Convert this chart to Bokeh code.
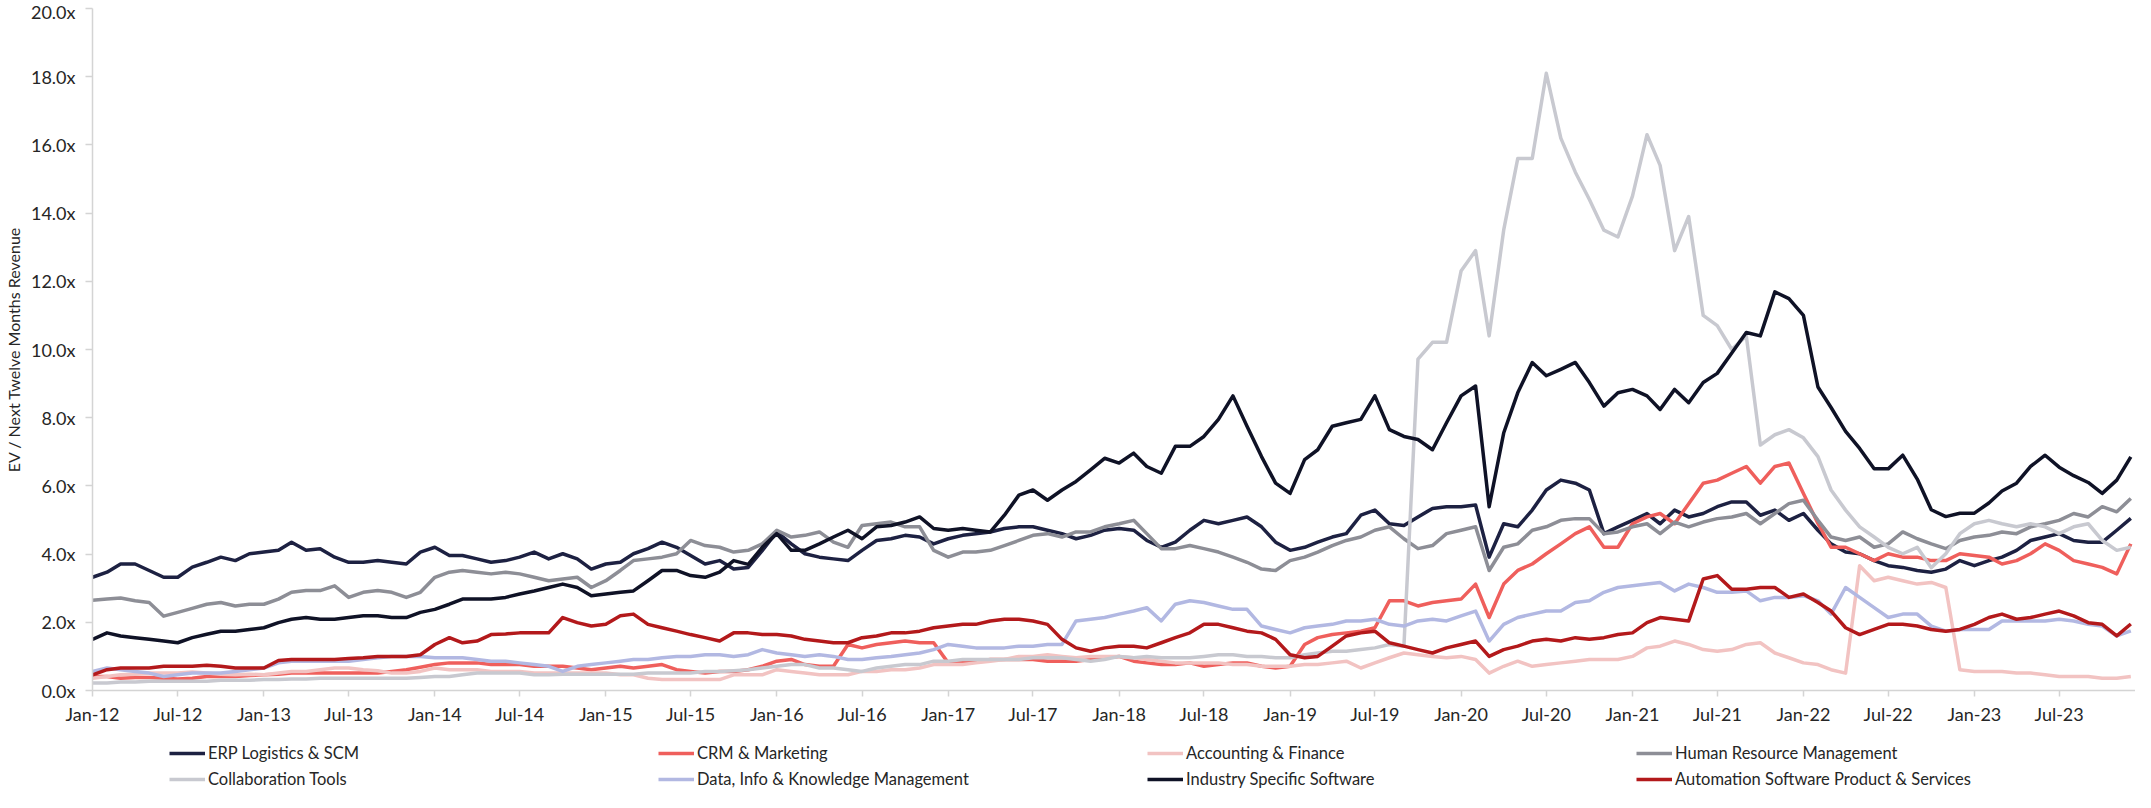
import pandas as pd
from datetime import datetime
from bokeh.plotting import figure
from bokeh.layouts import column
from bokeh.models import (ColumnDataSource, Legend, LegendItem, FixedTicker,
                          PrintfTickFormatter, DatetimeTickFormatter, Range1d)
from bokeh.embed import file_html
from bokeh.resources import INLINE

# Monthly observations, Jan-2012 .. Dec-2023 (144 months)
dates = pd.date_range("2012-01-01", periods=144, freq="MS")

erp_logistics = [
    3.32, 3.47, 3.71, 3.71, 3.52, 3.32, 3.32, 3.62, 3.76, 3.91, 3.81, 4.01,
    4.06, 4.11, 4.35, 4.11, 4.16, 3.91, 3.76, 3.76, 3.81, 3.76, 3.71, 4.06,
    4.20, 3.96, 3.96, 3.86, 3.76, 3.81, 3.91, 4.06, 3.86, 4.01, 3.86, 3.56,
    3.71, 3.76, 4.01, 4.16, 4.35, 4.20, 3.96, 3.71, 3.81, 3.56, 3.61, 4.10,
    4.65, 4.30, 4.01, 3.91, 3.86, 3.81, 4.11, 4.40, 4.45, 4.55, 4.50, 4.30,
    4.45, 4.55, 4.60, 4.65, 4.75, 4.80, 4.80, 4.70, 4.60, 4.45, 4.55, 4.70,
    4.75, 4.70, 4.40, 4.20, 4.35, 4.70, 4.99, 4.89, 4.99, 5.09, 4.80, 4.35,
    4.11, 4.20, 4.35, 4.50, 4.60, 5.14, 5.29, 4.89, 4.84, 5.09, 5.34, 5.39,
    5.39, 5.44, 3.91, 4.89, 4.80, 5.29, 5.88, 6.17, 6.08, 5.88, 4.60, 4.80,
    4.99, 5.19, 4.89, 5.29, 5.09, 5.19, 5.39, 5.53, 5.53, 5.14, 5.29, 4.99,
    5.19, 4.70, 4.30, 4.06, 4.01, 3.81, 3.66, 3.61, 3.52, 3.47, 3.56, 3.81,
    3.66, 3.81, 3.91, 4.11, 4.40, 4.50, 4.60, 4.40, 4.35, 4.35, 4.70, 5.05,
]

crm_marketing = [
    0.41, 0.41, 0.36, 0.38, 0.38, 0.36, 0.34, 0.36, 0.41, 0.41, 0.41, 0.44,
    0.46, 0.48, 0.51, 0.51, 0.51, 0.51, 0.51, 0.51, 0.51, 0.56, 0.61, 0.68,
    0.76, 0.81, 0.81, 0.81, 0.76, 0.76, 0.76, 0.71, 0.71, 0.71, 0.66, 0.61,
    0.66, 0.71, 0.66, 0.71, 0.76, 0.61, 0.56, 0.51, 0.56, 0.56, 0.61, 0.71,
    0.86, 0.91, 0.76, 0.71, 0.71, 1.35, 1.25, 1.35, 1.40, 1.45, 1.40, 1.40,
    0.81, 0.86, 0.86, 0.91, 0.91, 0.91, 0.91, 0.86, 0.86, 0.86, 0.91, 0.96,
    1.00, 0.86, 0.81, 0.76, 0.76, 0.81, 0.71, 0.76, 0.81, 0.81, 0.71, 0.66,
    0.71, 1.35, 1.55, 1.64, 1.69, 1.74, 1.84, 2.63, 2.63, 2.48, 2.58, 2.63,
    2.68, 3.12, 2.14, 3.12, 3.52, 3.71, 4.01, 4.30, 4.60, 4.80, 4.20, 4.20,
    4.89, 5.09, 5.19, 4.89, 5.48, 6.08, 6.17, 6.37, 6.57, 6.08, 6.57, 6.67,
    5.78, 4.90, 4.20, 4.20, 4.01, 3.81, 4.01, 3.91, 3.91, 3.81, 3.81, 4.01,
    3.96, 3.91, 3.71, 3.81, 4.01, 4.30, 4.11, 3.81, 3.71, 3.61, 3.42, 4.30,
]

accounting_finance = [
    0.36, 0.41, 0.46, 0.48, 0.51, 0.51, 0.51, 0.54, 0.51, 0.48, 0.46, 0.48,
    0.46, 0.51, 0.56, 0.56, 0.61, 0.66, 0.66, 0.61, 0.58, 0.51, 0.51, 0.56,
    0.66, 0.61, 0.61, 0.61, 0.56, 0.56, 0.56, 0.51, 0.51, 0.51, 0.51, 0.51,
    0.51, 0.46, 0.46, 0.36, 0.32, 0.32, 0.32, 0.32, 0.32, 0.46, 0.46, 0.46,
    0.61, 0.56, 0.51, 0.46, 0.46, 0.46, 0.56, 0.56, 0.61, 0.61, 0.66, 0.76,
    0.76, 0.76, 0.81, 0.86, 0.91, 1.00, 1.00, 1.05, 1.00, 0.96, 1.00, 1.00,
    1.00, 0.96, 0.91, 0.86, 0.81, 0.81, 0.81, 0.81, 0.76, 0.76, 0.71, 0.71,
    0.71, 0.76, 0.76, 0.81, 0.86, 0.66, 0.81, 0.96, 1.10, 1.05, 1.00, 0.96,
    1.00, 0.91, 0.51, 0.71, 0.86, 0.71, 0.76, 0.81, 0.86, 0.91, 0.91, 0.91,
    1.00, 1.25, 1.30, 1.45, 1.35, 1.20, 1.15, 1.20, 1.35, 1.40, 1.10, 0.96,
    0.81, 0.76, 0.61, 0.51, 3.66, 3.22, 3.32, 3.22, 3.12, 3.17, 3.02, 0.61,
    0.56, 0.56, 0.56, 0.51, 0.51, 0.46, 0.41, 0.41, 0.41, 0.36, 0.36, 0.41,
]

human_resource = [
    2.65, 2.68, 2.71, 2.63, 2.58, 2.18, 2.29, 2.41, 2.53, 2.58, 2.48, 2.53,
    2.53, 2.68, 2.88, 2.93, 2.93, 3.07, 2.73, 2.88, 2.93, 2.88, 2.73, 2.88,
    3.32, 3.47, 3.52, 3.47, 3.42, 3.47, 3.42, 3.32, 3.22, 3.27, 3.32, 3.02,
    3.22, 3.52, 3.81, 3.86, 3.91, 4.01, 4.40, 4.25, 4.20, 4.06, 4.11, 4.30,
    4.70, 4.50, 4.55, 4.65, 4.35, 4.20, 4.84, 4.89, 4.94, 4.80, 4.80, 4.11,
    3.91, 4.06, 4.06, 4.11, 4.25, 4.40, 4.55, 4.60, 4.50, 4.65, 4.65, 4.80,
    4.89, 4.99, 4.60, 4.16, 4.16, 4.25, 4.16, 4.06, 3.91, 3.76, 3.56, 3.52,
    3.81, 3.91, 4.06, 4.25, 4.40, 4.50, 4.70, 4.80, 4.45, 4.16, 4.25, 4.60,
    4.70, 4.80, 3.52, 4.20, 4.30, 4.70, 4.80, 4.99, 5.04, 5.04, 4.60, 4.65,
    4.80, 4.89, 4.60, 4.94, 4.80, 4.94, 5.04, 5.09, 5.19, 4.89, 5.19, 5.48,
    5.58, 4.99, 4.50, 4.40, 4.50, 4.20, 4.30, 4.65, 4.45, 4.30, 4.16, 4.40,
    4.50, 4.55, 4.65, 4.60, 4.80, 4.89, 4.99, 5.19, 5.09, 5.39, 5.24, 5.63,
]

collaboration_tools = [
    0.22, 0.22, 0.25, 0.25, 0.27, 0.27, 0.27, 0.27, 0.27, 0.30, 0.30, 0.30,
    0.32, 0.32, 0.34, 0.34, 0.36, 0.36, 0.36, 0.36, 0.36, 0.36, 0.36, 0.38,
    0.41, 0.41, 0.46, 0.51, 0.51, 0.51, 0.51, 0.46, 0.46, 0.48, 0.48, 0.48,
    0.48, 0.48, 0.48, 0.51, 0.51, 0.51, 0.51, 0.56, 0.56, 0.58, 0.61, 0.66,
    0.71, 0.76, 0.76, 0.66, 0.66, 0.61, 0.56, 0.66, 0.71, 0.76, 0.76, 0.86,
    0.86, 0.91, 0.91, 0.91, 0.91, 0.91, 0.96, 0.96, 0.96, 0.91, 0.86, 0.91,
    1.00, 0.96, 1.00, 0.96, 0.96, 0.96, 1.00, 1.05, 1.05, 1.00, 1.00, 0.96,
    0.96, 1.05, 1.10, 1.15, 1.15, 1.20, 1.25, 1.35, 1.30, 9.72, 10.21, 10.21,
    12.30, 12.90, 10.40, 13.50, 15.60, 15.60, 18.10, 16.20, 15.20, 14.40, 13.50, 13.30,
    14.50, 16.30, 15.40, 12.90, 13.90, 11.00, 10.70, 10.00, 10.40, 7.20, 7.50, 7.65,
    7.41, 6.86, 5.88, 5.29, 4.80, 4.50, 4.20, 4.01, 4.20, 3.60, 4.01, 4.60,
    4.89, 4.99, 4.89, 4.80, 4.89, 4.80, 4.60, 4.80, 4.89, 4.40, 4.11, 4.20,
]

data_info_knowledge = [
    0.56, 0.66, 0.61, 0.56, 0.51, 0.41, 0.46, 0.51, 0.51, 0.51, 0.56, 0.61,
    0.66, 0.81, 0.86, 0.86, 0.86, 0.86, 0.86, 0.91, 0.96, 1.00, 1.00, 1.00,
    0.96, 0.96, 0.96, 0.91, 0.86, 0.86, 0.81, 0.76, 0.71, 0.56, 0.71, 0.76,
    0.81, 0.86, 0.91, 0.91, 0.96, 1.00, 1.00, 1.05, 1.05, 1.00, 1.05, 1.20,
    1.10, 1.05, 1.00, 1.05, 1.00, 0.91, 0.91, 0.96, 1.00, 1.05, 1.10, 1.20,
    1.35, 1.30, 1.25, 1.25, 1.25, 1.30, 1.30, 1.35, 1.35, 2.04, 2.09, 2.14,
    2.24, 2.33, 2.43, 2.04, 2.53, 2.63, 2.58, 2.48, 2.38, 2.38, 1.89, 1.79,
    1.69, 1.84, 1.89, 1.94, 2.04, 2.04, 2.09, 1.94, 1.89, 2.04, 2.09, 2.04,
    2.19, 2.33, 1.45, 1.94, 2.14, 2.24, 2.33, 2.33, 2.58, 2.63, 2.88, 3.02,
    3.07, 3.12, 3.17, 2.92, 3.12, 3.02, 2.88, 2.88, 2.92, 2.63, 2.73, 2.73,
    2.78, 2.63, 2.24, 3.02, 2.73, 2.43, 2.14, 2.24, 2.24, 1.89, 1.74, 1.79,
    1.79, 1.79, 2.04, 2.04, 2.04, 2.04, 2.09, 2.04, 1.94, 1.89, 1.60, 1.75,
]

industry_specific = [
    1.50, 1.69, 1.60, 1.55, 1.50, 1.45, 1.40, 1.55, 1.65, 1.74, 1.74, 1.79,
    1.84, 1.99, 2.09, 2.14, 2.09, 2.09, 2.14, 2.19, 2.19, 2.14, 2.14, 2.29,
    2.38, 2.53, 2.68, 2.68, 2.68, 2.73, 2.83, 2.92, 3.02, 3.12, 3.02, 2.78,
    2.83, 2.88, 2.92, 3.22, 3.52, 3.52, 3.37, 3.32, 3.47, 3.81, 3.70, 4.20,
    4.60, 4.11, 4.11, 4.30, 4.50, 4.70, 4.45, 4.80, 4.84, 4.94, 5.09, 4.75,
    4.70, 4.75, 4.70, 4.65, 5.14, 5.73, 5.88, 5.58, 5.88, 6.13, 6.47, 6.81,
    6.67, 6.96, 6.57, 6.37, 7.16, 7.16, 7.45, 7.95, 8.64, 7.75, 6.86, 6.08,
    5.78, 6.77, 7.06, 7.75, 7.85, 7.95, 8.64, 7.65, 7.45, 7.36, 7.06, 7.85,
    8.64, 8.93, 5.39, 7.55, 8.73, 9.62, 9.23, 9.42, 9.62, 9.03, 8.34, 8.73,
    8.83, 8.64, 8.24, 8.83, 8.44, 9.03, 9.30, 9.90, 10.50, 10.40, 11.69, 11.49,
    11.00, 8.90, 8.30, 7.60, 7.10, 6.50, 6.50, 6.90, 6.20, 5.30, 5.10, 5.20,
    5.20, 5.50, 5.85, 6.08, 6.57, 6.90, 6.55, 6.30, 6.10, 5.78, 6.17, 6.85,
]

automation_software = [
    0.46, 0.61, 0.66, 0.66, 0.66, 0.71, 0.71, 0.71, 0.74, 0.71, 0.66, 0.66,
    0.66, 0.88, 0.91, 0.91, 0.91, 0.91, 0.94, 0.96, 1.00, 1.00, 1.00, 1.05,
    1.35, 1.55, 1.40, 1.45, 1.64, 1.66, 1.69, 1.69, 1.69, 2.14, 1.99, 1.89,
    1.94, 2.19, 2.24, 1.94, 1.84, 1.74, 1.64, 1.55, 1.45, 1.69, 1.69, 1.64,
    1.64, 1.60, 1.50, 1.45, 1.40, 1.40, 1.55, 1.60, 1.69, 1.69, 1.74, 1.84,
    1.89, 1.94, 1.94, 2.04, 2.09, 2.09, 2.04, 1.94, 1.50, 1.25, 1.15, 1.25,
    1.30, 1.30, 1.25, 1.40, 1.55, 1.69, 1.94, 1.94, 1.84, 1.74, 1.69, 1.50,
    1.05, 0.96, 1.00, 1.30, 1.60, 1.69, 1.74, 1.40, 1.30, 1.20, 1.10, 1.25,
    1.35, 1.45, 1.00, 1.20, 1.30, 1.45, 1.50, 1.45, 1.55, 1.50, 1.55, 1.64,
    1.69, 1.99, 2.14, 2.09, 2.04, 3.27, 3.37, 2.97, 2.97, 3.02, 3.02, 2.73,
    2.83, 2.58, 2.33, 1.84, 1.64, 1.79, 1.94, 1.94, 1.89, 1.79, 1.74, 1.79,
    1.94, 2.14, 2.24, 2.09, 2.14, 2.24, 2.33, 2.19, 1.99, 1.94, 1.60, 1.95,
]

series_labels = [
    "ERP Logistics & SCM",
    "CRM & Marketing",
    "Accounting & Finance",
    "Human Resource Management",
    "Collaboration Tools",
    "Data, Info & Knowledge Management",
    "Industry Specific Software",
    "Automation Software Product & Services",
]
series_values = [erp_logistics, crm_marketing, accounting_finance, human_resource,
                 collaboration_tools, data_info_knowledge, industry_specific,
                 automation_software]
series_colors = ["#1d2142", "#ef5f5c", "#f2c3c2", "#8d8e96",
                 "#c8c9d0", "#b2b8e2", "#0f1226", "#b3191b"]

# x-axis tick labels every six months
tick_dates = pd.date_range("2012-01-01", "2023-07-01", freq="6MS")

FONT = "Lato"
TXT = "#262626"
AXC = "#d4d4d4"
LW = 3.5

p = figure(width=2135, height=727, x_axis_type="datetime",
           output_backend="svg", toolbar_location=None,
           x_range=Range1d(datetime(2012, 1, 1), datetime(2023, 12, 11)),
           y_range=Range1d(0, 20),
           min_border_left=83, min_border_right=0, min_border_top=8,
           min_border_bottom=36)
p.xgrid.visible = False
p.ygrid.visible = False
p.outline_line_color = None
p.background_fill_color = "white"

for vals, col in zip(series_values, series_colors):
    src = ColumnDataSource(dict(x=dates, y=vals))
    p.line("x", "y", source=src, line_color=col, line_width=LW,
           line_join="round")

# axes
p.xaxis.ticker = FixedTicker(ticks=[d.timestamp() * 1000 for d in tick_dates])
p.xaxis.formatter = DatetimeTickFormatter(
    milliseconds="%b-%y", seconds="%b-%y", minsec="%b-%y", minutes="%b-%y",
    hourmin="%b-%y", hours="%b-%y", days="%b-%y", months="%b-%y", years="%b-%y")
p.yaxis.ticker = FixedTicker(ticks=list(range(0, 21, 2)))
p.yaxis.formatter = PrintfTickFormatter(format="%.1fx")
for ax in (p.xaxis, p.yaxis):
    ax.axis_line_color = AXC
    ax.axis_line_width = 1.5
    ax.major_tick_line_color = AXC
    ax.major_tick_line_width = 1.5
    ax.minor_tick_line_color = None
    ax.major_tick_in = 0
    ax.major_label_text_font = FONT
    ax.major_label_text_font_size = "18px"
    ax.major_label_text_color = TXT
p.xaxis.major_tick_out = 6
p.xaxis.major_label_standoff = 6
p.yaxis.major_tick_out = 7
p.yaxis.major_label_standoff = 10
p.yaxis.axis_label = "EV / Next Twelve Months Revenue"
p.yaxis.axis_label_text_font = FONT
p.yaxis.axis_label_text_font_size = "16px"
p.yaxis.axis_label_text_font_style = "normal"
p.yaxis.axis_label_text_color = TXT
p.yaxis.axis_label_standoff = 5

# legend strip below the chart (legend proxies share the series styles)
lg = figure(width=2135, height=65, output_backend="svg", toolbar_location=None,
            x_range=Range1d(0, 1), y_range=Range1d(0, 1),
            x_axis_location=None, y_axis_location=None,
            min_border_left=0, min_border_right=0, min_border_top=0,
            min_border_bottom=0)
lg.xgrid.visible = False
lg.ygrid.visible = False
lg.outline_line_color = None

items = []
for label, col in zip(series_labels, series_colors):
    r = lg.line(x=[0.0], y=[float("nan")], line_color=col, line_width=LW)
    items.append(LegendItem(label=label, renderers=[r]))

legend = Legend(items=items, location=(77, 0), orientation="horizontal",
                ncols=4)
legend.glyph_width = 36
legend.glyph_height = 26
legend.label_height = 26
legend.label_width = 450
legend.label_standoff = 3
legend.spacing = 0
legend.padding = 0
legend.margin = 0
legend.border_line_color = None
legend.background_fill_alpha = 0
legend.label_text_font = FONT
legend.label_text_font_size = "16.5px"
legend.label_text_color = TXT
lg.add_layout(legend)

layout = column(p, lg, spacing=0)
open("out.html", "w").write(file_html(layout, INLINE))
